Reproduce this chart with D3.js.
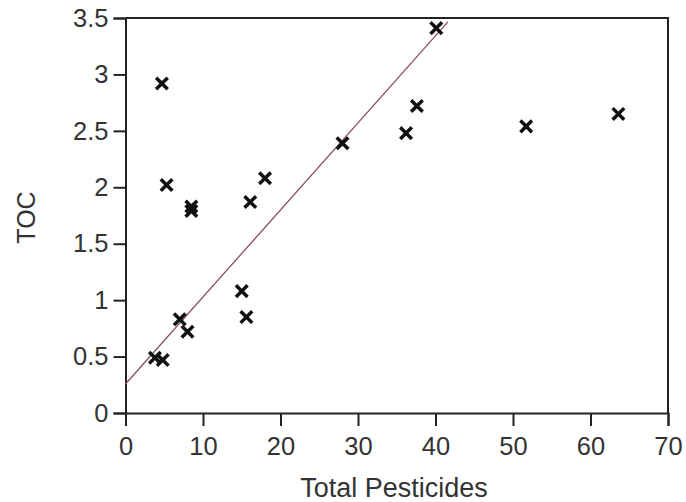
<!DOCTYPE html>
<html>
<head>
<meta charset="utf-8">
<script src="https://cdn.jsdelivr.net/npm/d3@7"></script>
<style>
  html, body { margin: 0; padding: 0; background: #fff; }
  svg text { font-family: "Liberation Sans", Arial, sans-serif; fill: #333; }
</style>
</head>
<body>
<svg id="chart" width="686" height="502"></svg>
<script>
// Data
const pesticides = [4.7, 5.3, 8.5, 8.5, 3.8, 4.8, 7.0, 8.0, 15.0, 15.6, 16.1, 18.0, 28.0, 36.2, 37.6, 40.1, 51.7, 63.6];
const toc        = [2.92, 2.02, 1.83, 1.79, 0.49, 0.47, 0.83, 0.72, 1.08, 0.85, 1.87, 2.08, 2.39, 2.48, 2.72, 3.41, 2.54, 2.65];
const xTicks = [0, 10, 20, 30, 40, 50, 60, 70];
const yTicks = [0, 0.5, 1, 1.5, 2, 2.5, 3, 3.5];
const fitX = [0, 41.6];
const fitY = [0.257, 3.466];

const svg = d3.select("#chart");
const mLeft = 125.5, mRight = 668, mTop = 18, mBottom = 413;

const x = d3.scaleLinear().domain([0, 70]).range([mLeft, mRight]);
const y = d3.scaleLinear().domain([0, 3.5]).range([mBottom, mTop]);

// frame (top and right)
svg.append("path")
  .attr("d", `M${mLeft},${mTop}H${mRight}V${mBottom}`)
  .attr("fill", "none").attr("stroke", "#222").attr("stroke-width", 2);

// x axis
const xAxis = svg.append("g").attr("transform", `translate(0,${mBottom})`)
  .call(d3.axisBottom(x).tickValues(xTicks).tickSize(13).tickPadding(11).tickFormat(d3.format("d")));
xAxis.select(".domain").attr("stroke", "#222").attr("stroke-width", 2);
xAxis.selectAll(".tick line").attr("stroke", "#222").attr("stroke-width", 2);
xAxis.selectAll("text").attr("font-size", 25.5).attr("fill", "#333").attr("font-family", "Liberation Sans, Arial, sans-serif");

// y axis
const yAxis = svg.append("g").attr("transform", `translate(${mLeft},0)`)
  .call(d3.axisLeft(y).tickValues(yTicks).tickSize(12).tickPadding(5).tickFormat(d => String(d)));
yAxis.select(".domain").attr("stroke", "#222").attr("stroke-width", 2);
yAxis.selectAll(".tick line").attr("stroke", "#222").attr("stroke-width", 2);
yAxis.selectAll("text").attr("font-size", 25.5).attr("fill", "#333").attr("font-family", "Liberation Sans, Arial, sans-serif");

// regression line
svg.append("line")
  .attr("x1", x(fitX[0])).attr("y1", y(fitY[0]))
  .attr("x2", x(fitX[1])).attr("y2", y(fitY[1]))
  .attr("stroke", "#8b4f60").attr("stroke-width", 1.3);

// X markers
const pts = pesticides.map((v, i) => ({ x: v, y: toc[i] }));
const s = 5.8;
svg.append("g").selectAll("path").data(pts).join("path")
  .attr("transform", d => `translate(${x(d.x)},${y(d.y)})`)
  .attr("d", `M${-s},${-s}L${s},${s}M${-s},${s}L${s},${-s}`)
  .attr("stroke", "#111").attr("stroke-width", 3.5).attr("fill", "none");

// axis titles
svg.append("text").attr("x", 394).attr("y", 497)
  .attr("text-anchor", "middle").attr("font-size", 27).text("Total Pesticides");
svg.append("text").attr("transform", `translate(35,${(mTop + mBottom) / 2 + 2}) rotate(-90)`)
  .attr("text-anchor", "middle").attr("font-size", 25).text("TOC");
</script>
</body>
</html>
